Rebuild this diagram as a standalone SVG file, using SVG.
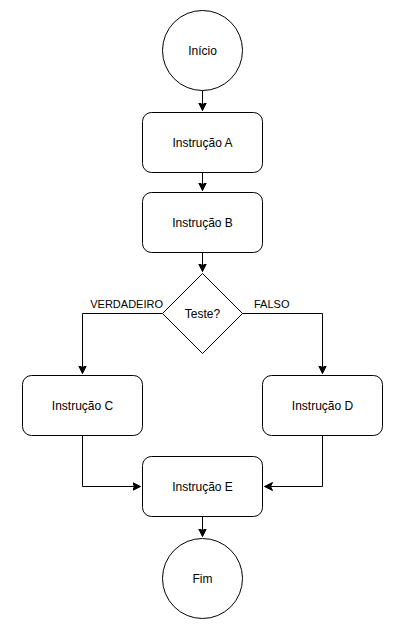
<svg xmlns="http://www.w3.org/2000/svg" width="403" height="629" viewBox="0 0 403 629">
<defs>
<style>
.n{fill:#fff;stroke:#000;stroke-width:1}
.t{font-family:"Liberation Sans",Arial,sans-serif;font-size:12px;fill:#000;text-anchor:middle;dominant-baseline:central}
.l{font-family:"Liberation Sans",Arial,sans-serif;font-size:11px;fill:#000}
.c{fill:none;stroke:#000;stroke-width:1}
</style>
<marker id="a" markerUnits="userSpaceOnUse" markerWidth="10" markerHeight="10" viewBox="0 0 10 10" refX="8" refY="5" orient="auto">
<path d="M0,1 L8,5 L0,9 L2,5 Z" fill="#000" stroke="#000" stroke-width="1"/>
</marker>
</defs>
<rect width="403" height="629" fill="#fff"/>
<g id="connectors">
<path class="c" d="M202.5,90.5 V110.5" marker-end="url(#a)"/>
<path class="c" d="M202.5,172.5 V190.5" marker-end="url(#a)"/>
<path class="c" d="M202.5,252.5 V271.5" marker-end="url(#a)"/>
<path class="c" d="M162.5,313.5 H82.5 V373.5" marker-end="url(#a)"/>
<path class="c" d="M242.5,313.5 H322.5 V373.5" marker-end="url(#a)"/>
<path class="c" d="M82.5,435.5 V486.5 H140.5" marker-end="url(#a)"/>
<path class="c" d="M322.5,435.5 V486.5 H264.5" marker-end="url(#a)"/>
<path class="c" d="M202.5,516.5 V536.5" marker-end="url(#a)"/>
<text class="l" x="163" y="308" text-anchor="end">VERDADEIRO</text>
<text class="l" x="254" y="308">FALSO</text>
</g>
<g id="inicio"><circle class="n" cx="202.5" cy="50.5" r="40"/><text class="t" x="202.5" y="50.5">Início</text></g>
<g id="instrucaoA"><rect class="n" x="142.5" y="112.5" width="120" height="60" rx="9"/><text class="t" x="202.5" y="142.5">Instrução A</text></g>
<g id="instrucaoB"><rect class="n" x="142.5" y="192.5" width="120" height="60" rx="9"/><text class="t" x="202.5" y="222.5">Instrução B</text></g>
<g id="teste"><path class="n" d="M202.5,273.5 L242.5,313.5 L202.5,353.5 L162.5,313.5 Z"/><text class="t" x="202.5" y="313.5">Teste?</text></g>
<g id="instrucaoC"><rect class="n" x="22.5" y="375.5" width="120" height="60" rx="9"/><text class="t" x="82.5" y="405.5">Instrução C</text></g>
<g id="instrucaoD"><rect class="n" x="262.5" y="375.5" width="120" height="60" rx="9"/><text class="t" x="322.5" y="405.5">Instrução D</text></g>
<g id="instrucaoE"><rect class="n" x="142.5" y="456.5" width="120" height="60" rx="9"/><text class="t" x="202.5" y="486.5">Instrução E</text></g>
<g id="fim"><circle class="n" cx="202.5" cy="578.5" r="40"/><text class="t" x="202.5" y="578.5">Fim</text></g>
</svg>
